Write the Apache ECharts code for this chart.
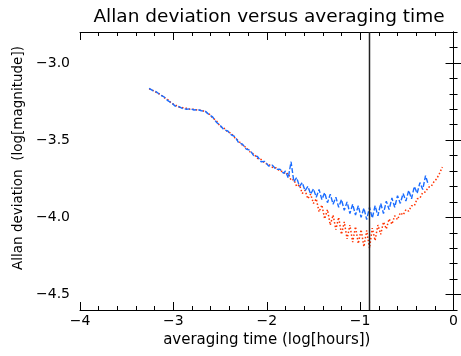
<!DOCTYPE html>
<html><head><meta charset="utf-8">
<script src="https://cdn.jsdelivr.net/npm/echarts@6/dist/echarts.min.js"></script>
<style>html,body{margin:0;padding:0;background:#fff}#c{width:461px;height:356px}</style>
</head><body><div id="c"></div>
<script>
// log10(averaging time [hours])
const xValues = [
 -3.26,-3.22,-3.18,-3.14,-3.10,-3.06,-3.02,-2.98,-2.94,-2.90,-2.86,-2.82,-2.78,-2.74,-2.70,-2.66,-2.62,-2.58,-2.54,-2.50,
 -2.46,-2.42,-2.38,-2.34,-2.30,-2.26,-2.22,-2.18,-2.14,-2.10,-2.06,-2.02,-1.98,-1.94,-1.90,-1.86,-1.82,
 -1.80,-1.77,-1.74,-1.71,-1.68,-1.65,-1.62,-1.59,-1.56,-1.53,-1.50,-1.47,-1.44,-1.41,-1.38,-1.35,-1.32,-1.29,-1.26,-1.23,
 -1.20,-1.17,-1.14,-1.11,-1.08,-1.05,-1.02,-0.99,-0.96,-0.93,-0.90,-0.87,-0.84,-0.81,-0.78,-0.75,-0.72,-0.69,-0.66,-0.63,
 -0.60,-0.57,-0.54,-0.51,-0.48,-0.45,-0.42,-0.39,-0.36,-0.33,-0.30,-0.27,-0.24,-0.21,-0.18,-0.15,-0.12
];
// blue dashed series (log magnitude)
const blueValues = [
 -3.165,-3.180,-3.188,-3.208,-3.220,-3.245,-3.258,-3.280,-3.283,-3.296,-3.300,-3.297,-3.305,-3.302,-3.310,-3.312,-3.334,-3.350,-3.384,-3.404,
 -3.432,-3.440,-3.466,-3.478,-3.518,-3.526,-3.558,-3.566,-3.600,-3.606,-3.640,-3.638,-3.668,-3.662,-3.690,-3.688,-3.715,
 -3.700,-3.745,-3.640,-3.770,-3.742,-3.800,-3.775,-3.828,-3.800,-3.850,-3.815,-3.870,-3.820,-3.885,-3.840,-3.905,-3.850,-3.915,-3.870,-3.935,
 -3.885,-3.955,-3.900,-3.975,-3.915,-3.985,-3.925,-4.000,-3.940,-4.015,-3.935,-4.005,-3.925,-3.990,-3.910,-3.975,-3.895,-3.950,-3.875,-3.935,
 -3.860,-3.910,-3.845,-3.895,-3.825,-3.880,-3.800,-3.845,-3.775,-3.820,-3.730,-3.790,null,null,null,null,null
];
// red dotted series (log magnitude)
const redValues = [
 -3.168,-3.178,-3.193,-3.203,-3.224,-3.238,-3.262,-3.272,-3.287,-3.290,-3.294,-3.300,-3.300,-3.306,-3.307,-3.316,-3.328,-3.356,-3.374,-3.410,
 -3.422,-3.446,-3.456,-3.486,-3.506,-3.534,-3.548,-3.576,-3.590,-3.618,-3.626,-3.650,-3.656,-3.676,-3.680,-3.700,-3.705,
 -3.720,-3.715,-3.760,-3.755,-3.800,-3.790,-3.845,-3.825,-3.880,-3.850,-3.910,-3.880,-3.965,-3.920,-4.010,-3.950,-4.050,-3.985,-4.080,-4.000,
 -4.110,-4.030,-4.140,-4.050,-4.160,-4.060,-4.170,-4.080,-4.190,-4.085,-4.200,-4.070,-4.150,-4.050,-4.110,-4.030,-4.075,-4.010,-4.045,-3.990,
 -4.015,-3.970,-3.985,-3.950,-3.960,-3.925,-3.925,-3.880,-3.875,-3.840,-3.835,-3.805,-3.800,-3.770,-3.750,-3.715,-3.675
];
const markerX = -0.90;
const yRange = [-4.6, -2.8];
const xRange = [-4, 0];
const yLabelValues = [-4.5, -4.0, -3.5, -3.0];

const fmt = (v, d) => (v < 0 ? '\u2212' : '') + Math.abs(v).toFixed(d);
const FONT = 'DejaVu Sans';
const pair = (xs, ys) => xs.map((x, i) => [x, ys[i]]);

const chart = echarts.init(document.getElementById('c'));
const frameLine = {show: true, lineStyle: {color: '#000', width: 1}};
const baseY = {type: 'value', min: yRange[0], max: yRange[1], splitLine: {show: false}};
chart.setOption({
  animation: false,
  title: {text: 'Allan deviation versus averaging time', left: 264, textAlign: 'center', top: 3,
    textStyle: {fontFamily: FONT, fontSize: 18.5, fontWeight: 'normal', color: '#000'}},
  grid: {left: 80, right: 3, top: 32, bottom: 46, containLabel: false},
  xAxis: [
    {type: 'value', min: xRange[0], max: xRange[1], interval: 1, position: 'bottom',
     axisLine: frameLine, splitLine: {show: false},
     axisTick: {inside: true, length: 8, lineStyle: {color: '#000'}},
     minorTick: {show: true, splitNumber: 5, length: 4, lineStyle: {color: '#000'}},
     axisLabel: {formatter: v => fmt(v, 0), fontFamily: FONT, fontSize: 14, color: '#000', margin: 4},
     name: 'averaging time (log[hours])', nameLocation: 'middle', nameGap: 23,
     nameTextStyle: {fontFamily: FONT, fontSize: 15, color: '#000'}},
    {type: 'value', min: xRange[0], max: xRange[1], interval: 1, position: 'top',
     axisLine: frameLine, splitLine: {show: false}, axisLabel: {show: false},
     axisTick: {inside: true, length: 8, lineStyle: {color: '#000'}},
     minorTick: {show: true, splitNumber: 5, length: 4, lineStyle: {color: '#000'}}}
  ],
  yAxis: [
    Object.assign({}, baseY, {position: 'left', axisLine: frameLine,
     axisTick: {inside: true, length: 8, customValues: yLabelValues, lineStyle: {color: '#000'}},
     axisLabel: {customValues: yLabelValues, formatter: v => fmt(v, 1), fontFamily: FONT, fontSize: 14, color: '#000', margin: 10},
     name: 'Allan deviation  (log[magnitude])', nameLocation: 'middle', nameGap: 55,
     nameTextStyle: {fontFamily: FONT, fontSize: 13.5, color: '#000', padding: [0, 0, 0, 26]}}),
    Object.assign({}, baseY, {position: 'left', interval: 0.1, axisLine: {show: false},
     axisTick: {inside: true, length: 4, lineStyle: {color: '#000'}}, axisLabel: {show: false}}),
    Object.assign({}, baseY, {position: 'right', axisLine: frameLine,
     axisTick: {inside: true, length: 8, customValues: yLabelValues, lineStyle: {color: '#000'}},
     axisLabel: {show: false}}),
    Object.assign({}, baseY, {position: 'right', interval: 0.1, axisLine: {show: false},
     axisTick: {inside: true, length: 4, lineStyle: {color: '#000'}}, axisLabel: {show: false}})
  ],
  series: [
    {type: 'line', data: pair(xValues, redValues), showSymbol: false, connectNulls: false,
     lineStyle: {color: '#ff3300', width: 1.5, type: [1.5, 2]}},
    {type: 'line', data: pair(xValues, blueValues), showSymbol: false, connectNulls: false,
     lineStyle: {color: '#1a6cff', width: 1.4, type: [5, 2]}},
    {type: 'line', data: [[markerX, yRange[0]], [markerX, yRange[1]]], showSymbol: false,
     lineStyle: {color: '#222', width: 1.5}}
  ]
});
</script></body></html>
